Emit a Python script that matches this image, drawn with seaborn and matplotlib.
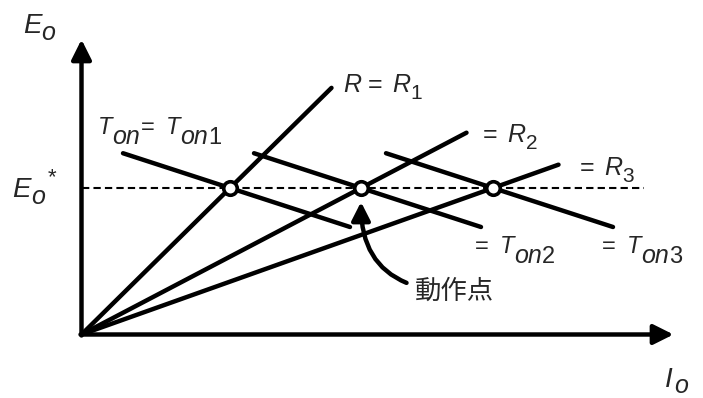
import matplotlib
matplotlib.use("Agg")
import matplotlib.pyplot as plt
from matplotlib.transforms import offset_copy
import numpy as np
import pandas as pd
import seaborn as sns

# Operating condition (normalised units)
e_ref = 1.465                      # E_o*
io_points = [1.485, 2.795, 4.115]  # I_o at the three operating points
r_end = [2.50, 3.85, 4.77]         # where each load line stops
ton_slope = -0.325                 # slope of the constant-T_on lines
ton_span = (1.07, 1.20)            # extent of each T_on line left/right of its point

r_names = ["1", "2", "3"]
ton_names = ["1", "2", "3"]
op_label = "動作点"

sns.set_theme(style="white")
plt.rcParams["font.family"] = ["Liberation Sans", "Noto Sans CJK JP", "DejaVu Sans"]

fig = plt.figure(figsize=(7.03, 3.98), dpi=100)
ax = fig.add_axes([0, 0, 1, 1])
ax.set_xlim(-0.815, 6.215)
ax.set_ylim(-0.635, 3.345)
ax.axis("off")
renderer = fig.canvas.get_renderer()

LW = 3.2


def rich_label(x, y, parts):
    """Draw a label made of pieces: (text, size, baseline shift px, italic, gap px)."""
    dx = 0.0
    for s, fs, dy, italic, gap in parts:
        dx += gap
        tr = offset_copy(ax.transData, fig=fig, x=dx, y=dy, units="dots")
        t = ax.text(x, y, s, transform=tr, fontsize=fs, va="baseline", ha="left",
                    fontstyle="italic" if italic else "normal")
        dx += t.get_window_extent(renderer).width


# load lines R = R1, R2, R3 through the origin
rows = []
for i, (io, xe) in enumerate(zip(io_points, r_end)):
    k = e_ref / io
    rows += [dict(line=i, x=0.0, y=0.0), dict(line=i, x=xe, y=k * xe)]
df_r = pd.DataFrame(rows)
sns.lineplot(data=df_r, x="x", y="y", units="line", estimator=None, sort=False,
             color="black", lw=LW, ax=ax, solid_capstyle="round")

# constant on-time lines
rows = []
for i, io in enumerate(io_points):
    for x in (io - ton_span[0], io + ton_span[1]):
        rows.append(dict(line=i, x=x, y=e_ref + ton_slope * (x - io)))
df_t = pd.DataFrame(rows)
sns.lineplot(data=df_t, x="x", y="y", units="line", estimator=None, sort=False,
             color="black", lw=LW, ax=ax, solid_capstyle="round")

# reference output voltage
ax.plot([0, 5.62], [e_ref, e_ref], color="black", lw=1.5, ls=(0, (3.5, 2)), zorder=3)

# operating points
sns.scatterplot(x=io_points, y=[e_ref] * 3, s=95, color="white", edgecolor="black",
                linewidth=2.6, zorder=6, ax=ax)

# axes with arrowheads
arrow_kw = dict(arrowstyle="-|>,head_length=0.6,head_width=0.3", lw=LW, color="black",
                shrinkA=0, shrinkB=0, mutation_scale=20)
ax.annotate("", xy=(0, 2.95), xytext=(0, -0.01), arrowprops=arrow_kw)
ax.annotate("", xy=(5.92, 0), xytext=(-0.01, 0), arrowprops=arrow_kw)

# axis labels
rich_label(-0.585, 3.015, [("E", 20, 0, True, 0), ("o", 18, -7, True, 0)])
rich_label(5.835, -0.525, [("I", 20, 0, True, 0), ("o", 18, -6, True, 1)])
rich_label(-0.69, 1.375, [("E", 20, 0, True, 0), ("o", 18, -7, True, 0),
                          ("*", 16, 14, False, 3)])

# load line labels
r_pos = [(2.615, 2.425), (4.015, 1.925), (4.985, 1.595)]
for i, ((x, y), n) in enumerate(zip(r_pos, r_names)):
    head = ([("R", 18, 0, True, 0), ("=", 18, 0, False, 7)] if i == 0
            else [("=", 18, 0, False, 0)])
    rich_label(x, y, head + [("R", 18, 0, True, 10), (n, 15, -7, False, 0)])

# on-time labels
ton_pos = [(0.165, 2.005), (3.935, 0.815), (5.205, 0.815)]
for i, ((x, y), n) in enumerate(zip(ton_pos, ton_names)):
    head = ([("T", 17, 0, True, 0), ("on", 18, -10, True, 0), ("=", 17, 0, False, 1)]
            if i == 0 else [("=", 17, 0, False, 0)])
    rich_label(x, y, head + [("T", 17, 0, True, 11), ("on", 18, -10, True, 0),
                             (n, 17, -10, False, 0)])

# operating point callout
ax.annotate(op_label, xy=(2.795, 1.325), xytext=(3.335, 0.435),
            fontsize=19, va="center", ha="left", family=["Noto Sans CJK JP"],
            arrowprops=dict(arrowstyle="-|>,head_length=0.55,head_width=0.28", lw=LW,
                            color="black", mutation_scale=20, shrinkA=4, shrinkB=0,
                            connectionstyle="angle3,angleA=0,angleB=90"))

fig.savefig("out.png", dpi=100)
